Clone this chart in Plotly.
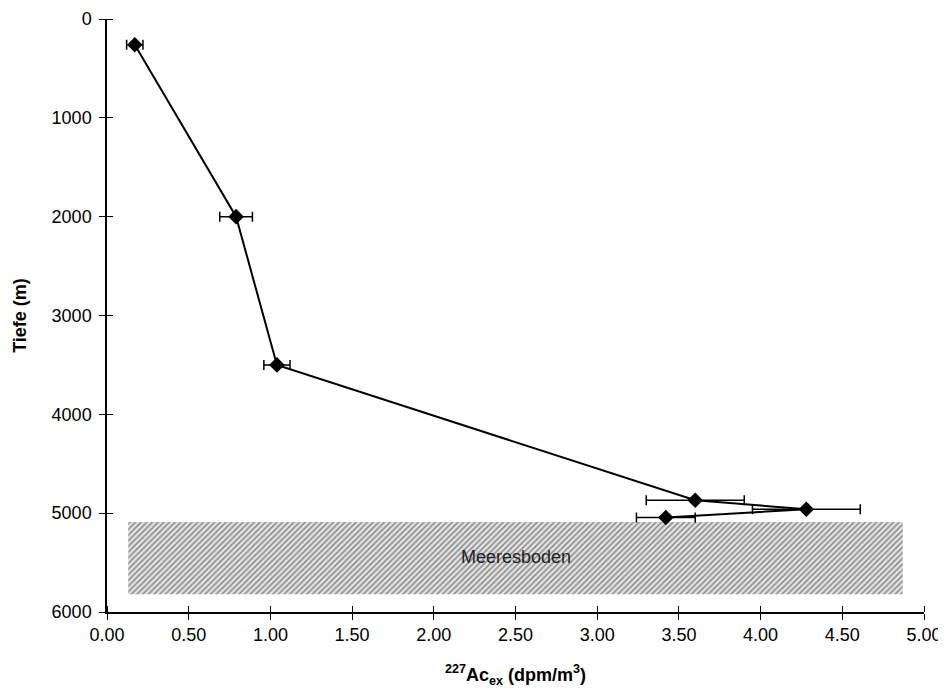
import plotly.graph_objects as go

# Data
activity = [0.17, 0.79, 1.04, 3.60, 4.28, 3.42]          # 227Ac_ex (dpm/m3)
depth = [260, 2000, 3500, 4870, 4960, 5044]              # Tiefe (m)
activity_err = [0.05, 0.10, 0.08, 0.30, 0.33, 0.18]

x_ticks = [0, 0.5, 1.0, 1.5, 2.0, 2.5, 3.0, 3.5, 4.0, 4.5, 5.0]
y_ticks = [0, 1000, 2000, 3000, 4000, 5000, 6000]

# Seabed box
seabed_x = [0.13, 4.87]
seabed_y = [5090, 5820]
seabed_label = "Meeresboden"

FONT = "Liberation Sans, Arial, sans-serif"

fig = go.Figure()

fig.add_trace(go.Scatter(
    x=[seabed_x[0], seabed_x[1], seabed_x[1], seabed_x[0], seabed_x[0]],
    y=[seabed_y[0], seabed_y[0], seabed_y[1], seabed_y[1], seabed_y[0]],
    mode="lines", fill="toself",
    fillcolor="white",
    fillpattern=dict(shape="/", fgcolor="#333333", bgcolor="#e4e4e4", size=4, solidity=0.4),
    line=dict(width=0), hoverinfo="skip", showlegend=False,
))

fig.add_trace(go.Scatter(
    x=activity, y=depth, mode="lines+markers",
    line=dict(color="black", width=2),
    marker=dict(symbol="diamond", size=12, color="black"),
    error_x=dict(type="data", array=activity_err, color="black", thickness=1.5, width=5),
    showlegend=False,
))

fig.add_annotation(x=2.5, y=5440, text=seabed_label, showarrow=False,
                   font=dict(family=FONT, size=18, color="#222222"))

fig.update_layout(
    width=946, height=695,
    margin=dict(l=99, r=30, t=11, b=91),
    paper_bgcolor="white", plot_bgcolor="white",
    font=dict(family=FONT, size=18, color="black"),
    xaxis=dict(
        range=[0, 5.0], tickvals=x_ticks, tickformat=".2f", automargin=False,
        showline=True, linecolor="black", linewidth=1.5,
        ticks="outside", ticklen=6, tickcolor="black", tickwidth=1,
        minor=dict(tickvals=x_ticks, ticks="inside", ticklen=6, tickcolor="black", tickwidth=1),
        showgrid=False, zeroline=False,
        title=dict(text="<b><sup>227</sup>Ac<sub>ex</sub> (dpm/m<sup>3</sup>)</b>",
                   font=dict(size=18), standoff=24),
    ),
    yaxis=dict(
        range=[6000, 0], tickvals=y_ticks, automargin=False,
        showline=True, linecolor="black", linewidth=1.5,
        ticks="outside", ticklen=6, tickcolor="black", tickwidth=1,
        minor=dict(tickvals=y_ticks, ticks="inside", ticklen=6, tickcolor="black", tickwidth=1),
        showgrid=False, zeroline=False, ticklabelstandoff=4,
        title=dict(text="<b>Tiefe (m)</b>", font=dict(size=18), standoff=20),
    ),
)

fig.write_html("out.html")
